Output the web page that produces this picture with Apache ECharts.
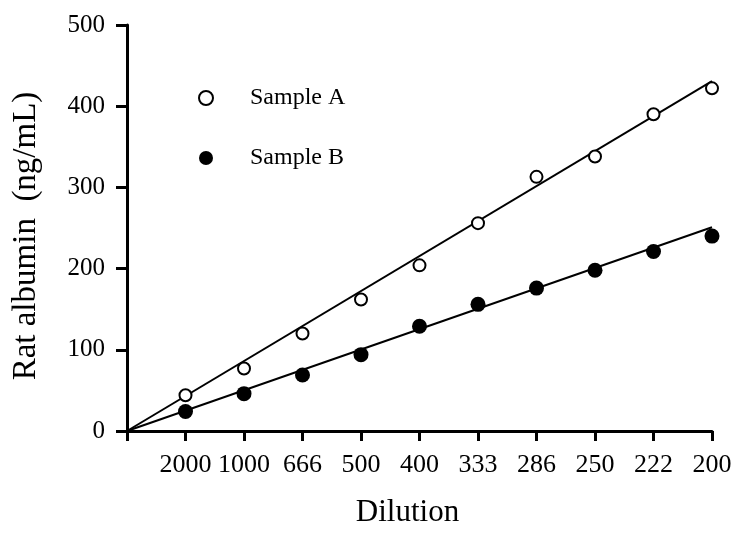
<!DOCTYPE html>
<html>
<head>
<meta charset="utf-8">
<script src="https://cdn.jsdelivr.net/npm/echarts@6/dist/echarts.min.js"></script>
<style>html,body{margin:0;padding:0;background:#fff}#c{width:740px;height:533px}</style>
</head>
<body>
<div id="c"></div>
<script>
var dilutions = ['2000', '1000', '666', '500', '400', '333', '286', '250', '222', '200'];
var sampleA = [44, 77, 120, 162, 204, 256, 313, 338, 390, 422];
var sampleB = [24, 46, 69, 94, 129, 156, 176, 198, 221, 240];
var fitA = [0, 431];
var fitB = [0, 251];
var yTicks = [0, 100, 200, 300, 400, 500];

var serif = 'Liberation Serif';
var n = dilutions.length;
var ptsA = sampleA.map(function (v, i) { return [i + 1, v]; });
var ptsB = sampleB.map(function (v, i) { return [i + 1, v]; });

var chart = echarts.init(document.getElementById('c'));
chart.setOption({
  backgroundColor: '#fff',
  animation: false,
  grid: { left: 127, right: 28, top: 25, bottom: 99 },
  legend: {
    orient: 'vertical',
    left: 193, top: 81,
    itemWidth: 14, itemHeight: 14,
    itemGap: 36,
    data: [
      { name: 'Sample A', icon: 'circle' },
      { name: 'Sample B', icon: 'circle' }
    ],
    textStyle: { fontFamily: serif, fontSize: 24, color: '#000', padding: [0, 0, 0, 32] }
  },
  xAxis: {
    type: 'value', min: 0, max: n, interval: 1,
    name: 'Dilution', nameLocation: 'middle', nameGap: 66,
    nameTextStyle: { fontFamily: serif, fontSize: 31, color: '#000', padding: [0, 24, 0, 0] },
    axisLine: { lineStyle: { color: '#000', width: 3 } },
    axisTick: { show: true, length: 10, lineStyle: { color: '#000', width: 3 } },
    axisLabel: {
      margin: 21, fontFamily: serif, fontSize: 26, color: '#000',
      formatter: function (v) { return v >= 1 ? dilutions[v - 1] : ''; }
    },
    splitLine: { show: false }
  },
  yAxis: {
    type: 'value', min: yTicks[0], max: yTicks[yTicks.length - 1], interval: 100,
    name: 'Rat albumin  (ng/mL)', nameLocation: 'middle', nameGap: 84,
    nameTextStyle: { fontFamily: serif, fontSize: 33, color: '#000', padding: [0, 16, 0, 0] },
    axisLine: { show: true, lineStyle: { color: '#000', width: 3 } },
    axisTick: { show: true, length: 11, lineStyle: { color: '#000', width: 3 } },
    axisLabel: { margin: 22, fontFamily: serif, fontSize: 25, color: '#000' },
    splitLine: { show: false }
  },
  series: [
    {
      name: 'fitA', type: 'line', silent: true, symbol: 'none',
      data: [[0, fitA[0]], [n, fitA[1]]],
      lineStyle: { color: '#000', width: 2 }
    },
    {
      name: 'fitB', type: 'line', silent: true, symbol: 'none',
      data: [[0, fitB[0]], [n, fitB[1]]],
      lineStyle: { color: '#000', width: 2 }
    },
    {
      name: 'Sample A', type: 'scatter', symbol: 'circle', symbolSize: 12,
      data: ptsA,
      itemStyle: { color: '#fff', borderColor: '#000', borderWidth: 2, opacity: 1 },
      z: 5
    },
    {
      name: 'Sample B', type: 'scatter', symbol: 'circle', symbolSize: 15,
      data: ptsB,
      itemStyle: { color: '#000', borderColor: '#000', borderWidth: 0, opacity: 1 },
      z: 5
    }
  ]
});
</script>
</body>
</html>
